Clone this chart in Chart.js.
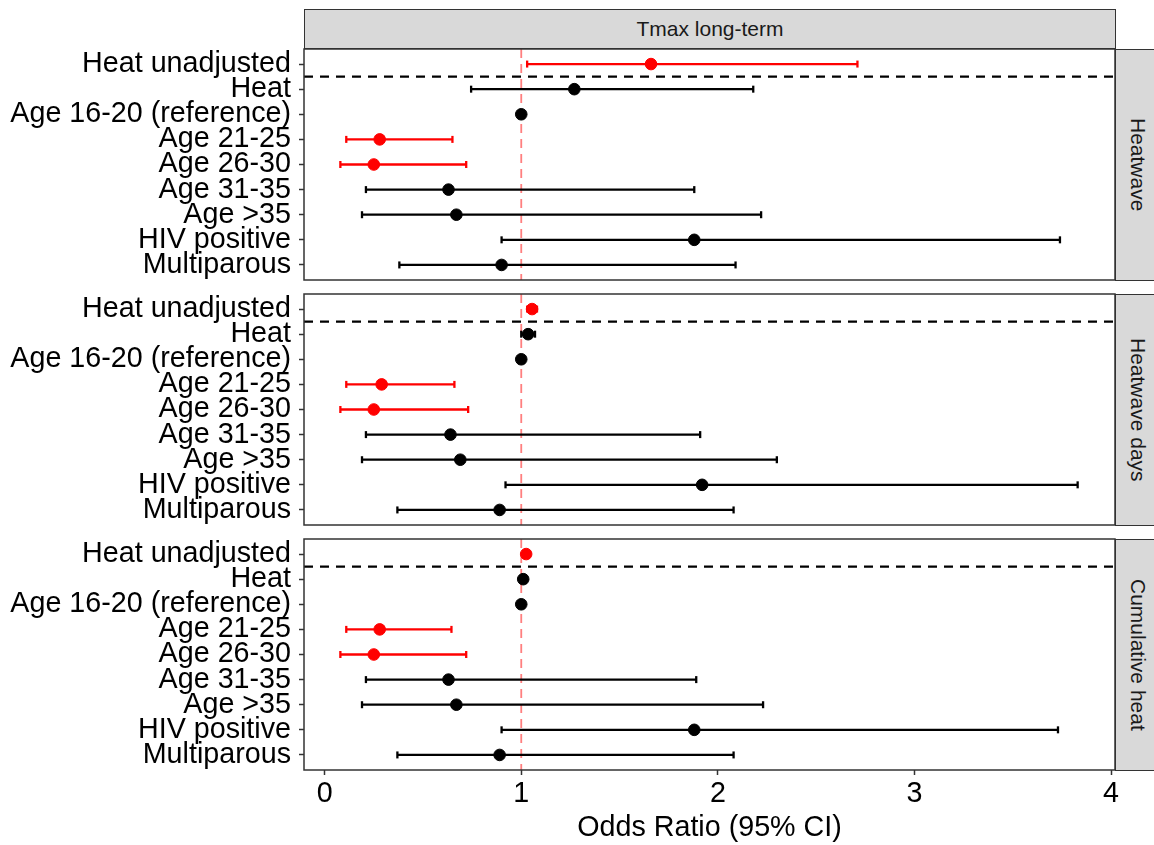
<!DOCTYPE html>
<html>
<head>
<meta charset="utf-8">
<script src="https://cdn.jsdelivr.net/npm/chart.js@4.4.1/dist/chart.umd.min.js"></script>
<style>
  html, body { margin: 0; padding: 0; background: #ffffff; }
  body { width: 1154px; height: 845px; position: relative; overflow: hidden; font-family: "Liberation Sans", Arial, sans-serif; }
  canvas { position: absolute; left: 0; }
  .strip { position: absolute; background: #D9D9D9; border: 1.5px solid #333333; box-sizing: border-box;
           color: #1A1A1A; font-size: 21px; display: flex; align-items: center; justify-content: center; }
  .vstrip { writing-mode: vertical-rl; }
</style>
</head>
<body>
<div class="strip" id="topStrip" style="left:304px; top:9px; width:812px; height:40px;"></div>
<div class="strip vstrip" id="s1" style="left:1115px; top:49px; width:45px; height:232px;"></div>
<div class="strip vstrip" id="s2" style="left:1115px; top:294px; width:45px; height:232px;"></div>
<div class="strip vstrip" id="s3" style="left:1115px; top:539px; width:45px; height:232px;"></div>
<canvas id="c1" width="1154" height="291" style="top:19px;"></canvas>
<canvas id="c2" width="1154" height="291" style="top:264px;"></canvas>
<canvas id="c3" width="1154" height="336" style="top:509px;"></canvas>
<script>
// ---- data ----
const categories = ['Heat unadjusted', 'Heat', 'Age 16-20 (reference)', 'Age 21-25', 'Age 26-30',
                    'Age 31-35', 'Age >35', 'HIV positive', 'Multiparous'];
const panelNames = ['Heatwave', 'Heatwave days', 'Cumulative heat'];
const xTicks = [0, 1, 2, 3, 4];
const xTitle = 'Odds Ratio (95% CI)';
const stripTitle = 'Tmax long-term';
const refValue = 1;

const heatwaveOR = [1.66, 1.27, 1.00, 0.28, 0.25, 0.63, 0.67, 1.88, 0.90];
const heatwaveLo = [1.03, 0.745, 1.00, 0.11, 0.08, 0.21, 0.19, 0.90, 0.38];
const heatwaveHi = [2.71, 2.18, 1.00, 0.65, 0.72, 1.88, 2.22, 3.74, 2.09];
const heatwaveSig = [true, false, false, true, true, false, false, false, false];

const hwDaysOR = [1.055, 1.035, 1.00, 0.29, 0.25, 0.64, 0.69, 1.92, 0.89];
const hwDaysLo = [1.03, 1.00, 1.00, 0.11, 0.08, 0.21, 0.19, 0.92, 0.37];
const hwDaysHi = [1.08, 1.07, 1.00, 0.66, 0.73, 1.91, 2.30, 3.83, 2.08];
const hwDaysSig = [true, false, false, true, true, false, false, false, false];

const cumHeatOR = [1.025, 1.01, 1.00, 0.28, 0.25, 0.63, 0.67, 1.88, 0.89];
const cumHeatLo = [1.02, 1.00, 1.00, 0.11, 0.08, 0.21, 0.19, 0.90, 0.37];
const cumHeatHi = [1.035, 1.02, 1.00, 0.645, 0.72, 1.89, 2.23, 3.73, 2.08];
const cumHeatSig = [true, false, false, true, true, false, false, false, false];

// ---- layout/style ----
const X_MIN = -0.105, X_MAX = 4.02;
const Y_MIN = 0.4, Y_MAX = categories.length + 0.6;
const FONT = '"Liberation Sans", Arial, sans-serif';
const TXT = 28.7;
Chart.defaults.font.family = FONT;
Chart.defaults.animation = false;

document.getElementById('topStrip').textContent = stripTitle;
['s1', 's2', 's3'].forEach((id, i) => { document.getElementById(id).textContent = panelNames[i]; });

const borderPlugin = {
  id: 'panelBorder',
  afterDraw(chart) {
    const a = chart.chartArea, ctx = chart.ctx;
    ctx.save();
    ctx.strokeStyle = '#333333';
    ctx.lineWidth = 1.5;
    ctx.strokeRect(a.left, a.top, a.right - a.left, a.bottom - a.top);
    ctx.restore();
  }
};

function makePanel(canvasId, or, lo, hi, sig, showX) {
  const datasets = [];
  datasets.push({
    type: 'line', data: [{x: refValue, y: Y_MIN}, {x: refValue, y: Y_MAX}],
    borderColor: 'rgba(255,0,0,0.5)', borderWidth: 1.8, borderDash: [9, 6],
    pointRadius: 0, order: 10
  });
  datasets.push({
    type: 'line', data: [{x: X_MIN, y: 1.5}, {x: X_MAX, y: 1.5}],
    borderColor: '#000000', borderWidth: 2.2, borderDash: [9, 7],
    pointRadius: 0, order: 9
  });
  categories.forEach((c, i) => {
    const col = sig[i] ? '#FF0000' : '#000000';
    datasets.push({
      type: 'line', data: [{x: lo[i], y: i + 1}, {x: hi[i], y: i + 1}],
      borderColor: col, borderWidth: 2.3,
      pointStyle: 'line', rotation: 90, pointRadius: 3.5,
      pointBorderColor: col, pointBorderWidth: 2.3, order: 5
    });
  });
  datasets.push({
    type: 'scatter', data: or.map((v, i) => ({x: v, y: i + 1})),
    pointBackgroundColor: sig.map(s => s ? '#FF0000' : '#000000'),
    pointBorderColor: sig.map(s => s ? '#FF0000' : '#000000'),
    pointBorderWidth: 1, pointRadius: 5.8, order: 1
  });

  return new Chart(document.getElementById(canvasId), {
    type: 'scatter',
    data: { datasets },
    options: {
      responsive: false,
      animation: false,
      layout: { padding: { top: 30, bottom: showX ? 0 : 30, left: 0, right: 39 } },
      plugins: { legend: { display: false }, tooltip: { enabled: false } },
      scales: {
        x: {
          type: 'linear', min: X_MIN, max: X_MAX, display: showX,
          afterBuildTicks: s => { s.ticks = xTicks.map(v => ({value: v})); },
          afterFit: s => { if (showX) s.height = 75; },
          grid: { display: true, drawOnChartArea: false, drawTicks: true, tickLength: 5, tickColor: '#333333', tickWidth: 1.5 },
          border: { display: false },
          ticks: { color: '#000000', font: { size: TXT }, padding: 2, autoSkip: false, maxRotation: 0,
                   callback: v => String(v) },
          title: { display: true, text: xTitle, color: '#000000', font: { size: TXT }, padding: { top: 0, bottom: 0 } }
        },
        y: {
          type: 'linear', min: Y_MIN, max: Y_MAX, reverse: true,
          afterBuildTicks: s => { s.ticks = categories.map((c, i) => ({value: i + 1})); },
          afterFit: s => { s.width = 304; },
          grid: { display: true, drawOnChartArea: false, drawTicks: true, tickLength: 5, tickColor: '#333333', tickWidth: 1.5 },
          border: { display: false },
          ticks: { color: '#000000', font: { size: TXT }, padding: 8, autoSkip: false,
                   callback: v => categories[Math.round(v) - 1] }
        }
      }
    },
    plugins: [borderPlugin]
  });
}

makePanel('c1', heatwaveOR, heatwaveLo, heatwaveHi, heatwaveSig, false);
makePanel('c2', hwDaysOR, hwDaysLo, hwDaysHi, hwDaysSig, false);
makePanel('c3', cumHeatOR, cumHeatLo, cumHeatHi, cumHeatSig, true);
</script>
</body>
</html>
